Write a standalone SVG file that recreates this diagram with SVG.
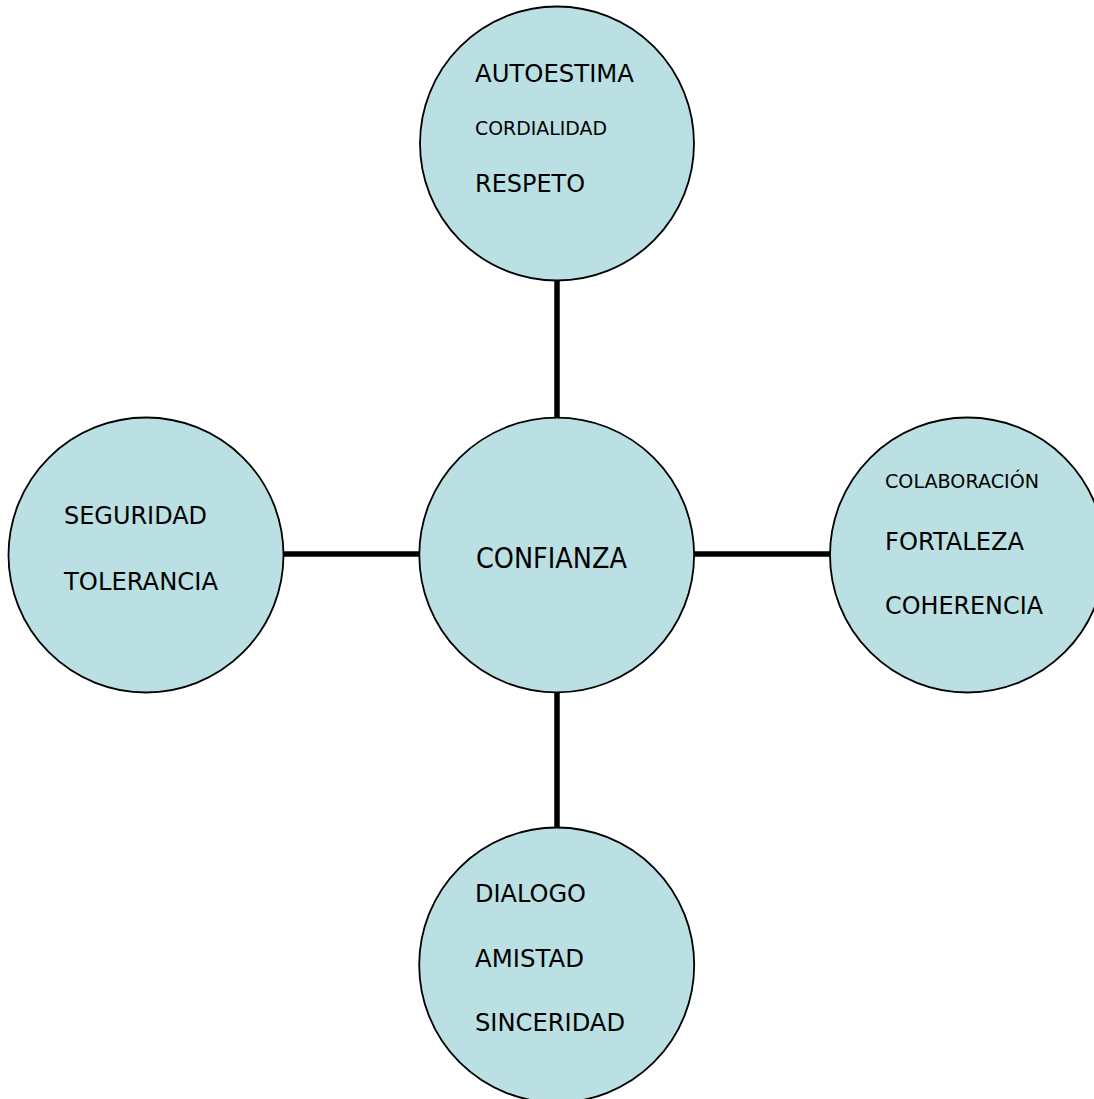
<svg xmlns="http://www.w3.org/2000/svg" width="1094" height="1099" viewBox="0 0 1094 1099">
<style>
.node{fill:#BAE0E3;stroke:#000;stroke-width:1.8}
.edge{stroke:#000;stroke-width:5.5;fill:none}
text{font-family:"DejaVu Sans","Verdana",sans-serif;fill:#000}
.l{font-size:24px}
.s{font-size:19px}
.c{font-size:28px}
</style>
<rect width="1094" height="1099" fill="#fff"/>
<g id="connectors">
<line class="edge" x1="557" y1="279" x2="557" y2="418"/>
<line class="edge" x1="557" y1="692" x2="557" y2="828"/>
<line class="edge" x1="283" y1="554" x2="420" y2="554"/>
<line class="edge" x1="693" y1="554" x2="831" y2="554"/>
</g>
<g id="node-top">
<circle class="node" cx="557" cy="143.5" r="137"/>
<text class="l" x="475" y="82" textLength="159" lengthAdjust="spacingAndGlyphs">AUTOESTIMA</text>
<text class="s" x="475" y="135" textLength="132" lengthAdjust="spacingAndGlyphs">CORDIALIDAD</text>
<text class="l" x="475" y="192" textLength="110" lengthAdjust="spacingAndGlyphs">RESPETO</text>
</g>
<g id="node-center">
<circle class="node" cx="556.7" cy="555" r="137.4"/>
<text class="c" x="476" y="568" textLength="151" lengthAdjust="spacingAndGlyphs">CONFIANZA</text>
</g>
<g id="node-left">
<circle class="node" cx="146" cy="555" r="137.5"/>
<text class="l" x="64" y="524" textLength="143" lengthAdjust="spacingAndGlyphs">SEGURIDAD</text>
<text class="l" x="64" y="590" textLength="154" lengthAdjust="spacingAndGlyphs">TOLERANCIA</text>
</g>
<g id="node-right">
<circle class="node" cx="967.5" cy="555" r="137.5"/>
<text class="s" x="885" y="488" textLength="154" lengthAdjust="spacingAndGlyphs">COLABORACIÓN</text>
<text class="l" x="885" y="550" textLength="139" lengthAdjust="spacingAndGlyphs">FORTALEZA</text>
<text class="l" x="885" y="614" textLength="158" lengthAdjust="spacingAndGlyphs">COHERENCIA</text>
</g>
<g id="node-bottom">
<circle class="node" cx="556.7" cy="965" r="137.5"/>
<text class="l" x="475" y="902" textLength="111" lengthAdjust="spacingAndGlyphs">DIALOGO</text>
<text class="l" x="475" y="967" textLength="109" lengthAdjust="spacingAndGlyphs">AMISTAD</text>
<text class="l" x="475" y="1031" textLength="150" lengthAdjust="spacingAndGlyphs">SINCERIDAD</text>
</g>
</svg>
